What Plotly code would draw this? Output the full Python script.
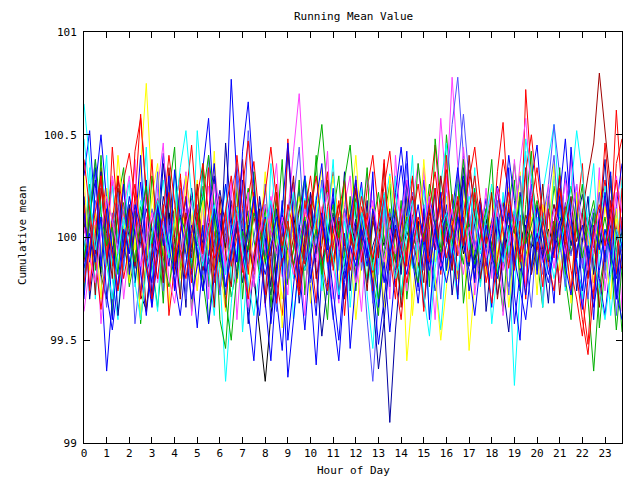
import plotly.graph_objects as go

# Time of day in hours, one reading every 15 minutes
HOURS = [i * 0.25 for i in range(96)]

red_1 = [
    100.05, 100.21, 99.92, 100.34, 100.12, 99.86, 100.02, 100.28,
    100.41, 100.18, 100.60, 100.22, 99.95, 100.10, 99.78, 99.96,
    100.14, 100.31, 99.99, 99.82, 100.07, 100.25, 99.91, 100.03,
    99.74, 99.88, 100.16, 100.04, 99.83, 100.19, 100.37, 100.08,
    99.90, 100.12, 99.79, 99.62, 99.95, 100.18, 100.02, 99.87,
    100.22, 100.09, 99.84, 100.15, 100.32, 100.05, 99.93, 100.11,
    99.81, 99.97, 100.24, 100.40, 100.12, 99.88, 100.01, 99.76,
    99.92, 100.16, 100.29, 100.03, 99.85, 100.20, 100.45, 100.13,
    99.98, 100.21, 99.80, 100.06, 100.33, 100.17, 99.94, 100.09,
    99.87, 100.14, 100.38, 100.22, 100.02, 99.84, 100.72, 100.30,
    100.08, 99.91, 100.19, 100.03, 99.78, 99.95, 100.12, 99.86,
    99.70, 99.48, 99.92, 100.10, 100.28, 100.05, 100.62, 100.20,
]
green_1 = [
    100.18, 99.94, 100.06, 99.83, 100.11, 100.27, 99.98, 100.04,
    99.76, 99.91, 100.15, 100.02, 99.87, 99.66, 99.95, 100.21,
    100.08, 99.84, 99.97, 100.19, 100.05, 99.79, 99.58, 99.90,
    100.12, 99.96, 99.71, 99.85, 100.09, 100.24, 99.99, 99.82,
    100.03, 100.17, 99.92, 100.08, 99.77, 99.94, 100.13, 100.30,
    100.12, 100.33, 100.55, 100.21, 99.97, 100.10, 99.86, 100.04,
    100.19, 99.93, 99.80, 100.07, 100.22, 99.98, 100.14, 99.89,
    99.72, 99.96, 100.11, 99.85, 100.02, 100.26, 100.09, 99.95,
    100.50, 100.18, 100.03, 99.87, 100.12, 99.93, 99.78, 100.06,
    100.21, 100.04, 99.88, 100.15, 100.36, 100.08, 99.91, 100.02,
    99.84, 100.13, 99.97, 100.25, 100.06, 99.82, 99.96, 100.11,
    99.88, 99.70, 99.35, 99.75, 99.94, 100.09, 99.86, 100.03,
]
blue_1 = [
    100.30, 100.52, 100.08, 99.82, 99.35, 99.70, 99.96, 100.15,
    99.88, 100.04, 100.27, 99.92, 99.78, 100.06, 100.41, 100.12,
    99.90, 99.73, 100.02, 100.22, 99.96, 100.34, 100.58, 100.10,
    99.85, 100.06, 100.77, 100.28, 99.98, 100.13, 99.80, 99.62,
    99.95, 100.18, 99.70, 99.45, 99.88, 100.06, 100.24, 99.93,
    99.75, 99.38, 99.82, 100.02, 100.19, 99.94, 99.71, 99.88,
    100.08, 100.27, 99.95, 99.78, 100.04, 100.21, 99.90, 100.12,
    100.35, 100.10, 99.86, 100.02, 100.28, 99.97, 99.74, 99.91,
    100.16, 99.93, 100.08, 100.30, 100.12, 99.85, 100.01, 100.19,
    99.92, 99.72, 99.88, 100.06, 99.58, 99.83, 100.04, 100.28,
    100.45, 100.10, 99.93, 100.16, 99.98, 100.32, 100.07, 99.86,
    99.74, 99.95, 100.12, 99.80, 99.62, 99.90, 100.15, 100.36,
]
magenta_1 = [
    99.64, 99.86, 100.04, 99.92, 100.15, 100.28, 99.97, 100.08,
    99.83, 100.12, 99.95, 100.22, 100.05, 99.78, 99.93, 100.18,
    100.02, 99.88, 100.14, 99.96, 99.74, 100.06, 100.25, 99.91,
    100.09, 99.82, 99.97, 100.16, 100.33, 100.01, 99.86, 100.11,
    99.94, 100.20, 100.04, 99.81, 100.13, 100.42, 100.70, 100.24,
    100.02, 99.88, 100.15, 99.93, 99.70, 99.95, 100.12, 100.03,
    99.85, 100.07, 100.30, 100.14, 99.92, 99.79, 100.05, 100.21,
    100.09, 99.90, 100.17, 100.36, 100.04, 99.87, 100.10, 100.58,
    100.22, 100.78, 100.35, 100.06, 99.91, 100.14, 99.96, 100.08,
    100.25, 100.02, 99.84, 100.11, 99.97, 100.19, 100.40, 100.07,
    99.93, 100.16, 100.03, 99.85, 100.08, 100.28, 99.99, 100.12,
    99.87, 100.04, 99.78, 99.95, 100.18, 100.02, 99.90, 100.10,
]
cyan_1 = [
    100.65, 100.38, 100.10, 99.92, 100.06, 100.25, 99.98, 99.84,
    100.12, 99.95, 100.18, 100.03, 99.87, 100.09, 100.28, 100.01,
    99.90, 100.14, 99.96, 99.78, 100.05, 100.22, 99.94, 100.10,
    99.82, 99.30, 99.68, 99.95, 100.13, 99.99, 100.21, 100.04,
    99.88, 100.07, 99.93, 100.16, 100.02, 99.80, 99.96, 100.19,
    100.06, 99.91, 100.12, 100.27, 100.00, 99.86, 100.08, 99.94,
    100.17, 100.03, 99.89, 99.72, 99.98, 100.14, 100.31, 100.05,
    99.92, 100.10, 99.85, 100.02, 100.23, 99.97, 99.81, 99.55,
    99.90, 100.08, 100.26, 100.04, 99.88, 100.13, 99.95, 100.07,
    99.83, 99.99, 100.20, 99.92, 99.28, 99.75, 99.98, 100.16,
    100.04, 100.22, 100.38, 100.55, 100.12, 99.96, 100.08, 99.90,
    100.14, 99.98, 99.82, 100.06, 100.25, 99.93, 100.11, 99.97,
]
yellow_1 = [
    99.82, 99.98, 100.12, 99.90, 100.24, 100.08, 99.85, 100.03,
    100.16, 99.94, 100.36, 100.75, 100.22, 99.97, 100.10, 99.86,
    100.05, 100.19, 99.92, 100.07, 100.28, 99.96, 99.81, 100.04,
    100.15, 99.93, 100.02, 99.78, 99.95, 100.11, 100.26, 99.99,
    99.87, 100.08, 99.94, 99.70, 99.88, 100.05, 100.20, 100.02,
    99.91, 100.14, 99.97, 100.09, 100.30, 100.06, 99.90, 100.12,
    100.40, 100.03, 99.86, 100.15, 99.98, 100.07, 99.82, 99.95,
    100.10, 99.40, 99.72, 99.96, 100.12, 100.01, 99.88, 100.06,
    100.20, 99.95, 99.80, 100.03, 99.45, 99.78, 99.97, 100.14,
    100.05, 99.92, 100.10, 100.24, 100.02, 99.85, 99.99, 100.16,
    99.94, 100.08, 100.21, 99.96, 100.12, 99.89, 100.04, 100.18,
    100.02, 99.87, 100.06, 99.92, 100.15, 99.98, 100.09, 99.86,
]
navy_1 = [
    99.95, 100.12, 100.28, 100.05, 99.88, 100.02, 100.16, 99.90,
    100.04, 99.85, 99.98, 100.14, 100.03, 99.92, 100.20, 100.07,
    99.86, 100.01, 100.19, 99.95, 100.10, 99.97, 99.82, 100.08,
    100.23, 100.05, 99.91, 100.04, 99.78, 99.95, 100.13, 100.00,
    99.89, 99.72, 99.94, 100.11, 100.02, 99.86, 100.06, 99.93,
    100.17, 100.03, 99.88, 99.99, 100.12, 99.95, 99.80, 99.97,
    100.09, 99.92, 99.78, 99.96, 100.05, 99.60, 99.10, 99.55,
    99.88, 100.06, 100.18, 99.98, 100.10, 99.91, 100.04, 100.22,
    100.03, 99.89, 100.12, 100.00, 99.86, 100.07, 100.19, 99.95,
    100.08, 100.25, 100.04, 99.90, 100.11, 99.97, 100.06, 99.84,
    100.00, 99.88, 100.13, 100.02, 99.93, 100.17, 99.96, 100.08,
    100.21, 100.05, 99.92, 100.09, 99.98, 100.14, 100.03, 99.90,
]
darkred_1 = [
    100.02, 100.20, 99.95, 100.10, 99.88, 100.06, 100.24, 100.01,
    99.93, 100.13, 100.00, 99.86, 100.08, 100.19, 99.97, 100.05,
    100.14, 99.90, 100.03, 100.22, 99.99, 99.84, 100.07, 99.96,
    100.12, 100.01, 99.89, 100.15, 100.06, 99.93, 100.10, 99.98,
    100.05, 99.91, 100.18, 100.03, 99.85, 100.00, 100.14, 100.26,
    100.07, 99.94, 100.09, 99.87, 100.02, 100.16, 99.96, 100.11,
    100.23, 100.04, 99.91, 100.08, 99.97, 100.12, 100.01, 99.88,
    100.06, 100.19, 99.99, 99.86, 100.03, 100.15, 99.94, 100.09,
    100.00, 99.90, 100.13, 100.28, 100.07, 99.95, 100.10, 100.02,
    99.89, 100.06, 100.17, 99.98, 100.04, 99.92, 100.11, 100.03,
    99.94, 100.08, 100.00, 100.16, 100.05, 99.92, 100.10, 99.98,
    100.12, 100.30, 100.46, 100.80, 100.52, 100.24, 100.04, 99.93,
]
slate_1 = [
    100.10, 99.92, 100.18, 100.04, 99.86, 100.12, 99.97, 100.25,
    100.06, 99.88, 99.74, 99.96, 100.14, 100.02, 99.83, 100.09,
    99.93, 100.16, 100.30, 100.07, 99.90, 100.03, 99.79, 99.95,
    100.11, 99.98, 100.21, 100.36, 100.05, 99.87, 100.00, 100.17,
    99.96, 99.82, 100.08, 99.94, 100.13, 100.27, 100.03, 99.89,
    100.15, 100.01, 99.85, 99.72, 99.96, 100.10, 99.93, 100.06,
    99.80, 99.98, 99.60, 99.30, 99.70, 99.94, 100.12, 100.04,
    99.91, 100.08, 100.22, 99.97, 99.84, 100.10, 100.01, 99.88,
    100.26, 100.55, 100.78, 100.40, 100.13, 99.95, 100.07, 99.92,
    100.04, 100.18, 99.90, 99.76, 99.96, 100.11, 100.02, 100.20,
    99.97, 100.09, 100.25, 100.55, 100.30, 100.06, 99.91, 100.08,
    99.85, 100.02, 100.14, 99.96, 99.80, 100.04, 99.93, 100.10,
]
black_1 = [
    100.08, 99.90, 100.05, 99.82, 99.70, 99.94, 100.10, 99.96,
    99.85, 100.04, 99.72, 99.65, 99.88, 100.02, 99.91, 100.12,
    99.98, 99.84, 100.06, 99.93, 100.15, 100.01, 99.87, 99.97,
    100.09, 99.95, 100.18, 100.03, 99.89, 100.06, 99.80, 99.54,
    99.30, 99.62, 99.86, 100.02, 99.94, 100.10, 99.97, 99.84,
    100.04, 99.92, 100.08, 99.99, 99.86, 100.02, 100.14, 99.95,
    100.06, 99.93, 100.00, 99.88, 100.05, 99.96, 100.10, 100.01,
    99.90, 100.03, 99.94, 100.08, 99.98, 100.12, 100.02, 99.91,
    100.05, 99.97, 100.11, 99.92, 100.04, 99.89, 100.00, 100.09,
    99.96, 100.07, 99.93, 100.02, 100.13, 99.98, 100.06, 99.95,
    100.01, 99.90, 100.04, 99.97, 100.10, 100.00, 99.92, 100.05,
    99.98, 100.08, 99.95, 100.03, 99.90, 100.06, 99.99, 100.02,
]
red_2 = [
    100.38, 100.14, 99.87, 99.65, 99.90, 100.08, 100.30, 100.12,
    99.94, 100.42, 100.58, 100.20, 99.96, 99.80, 100.05, 100.22,
    99.88, 100.03, 100.19, 100.45, 100.10, 99.92, 100.06, 99.78,
    99.95, 100.13, 99.86, 100.00, 100.24, 100.47, 100.15, 99.98,
    100.09, 99.85, 99.68, 99.92, 100.16, 100.04, 99.87, 100.11,
    100.30, 100.06, 99.90, 99.74, 99.96, 100.13, 100.28, 100.02,
    99.89, 100.15, 100.04, 99.83, 99.95, 100.21, 100.08, 99.79,
    99.60, 99.92, 100.10, 100.26, 100.05, 99.88, 100.00, 100.18,
    100.33, 100.07, 99.91, 100.12, 100.28, 100.44, 100.18, 99.97,
    100.06, 100.24, 100.03, 99.85, 100.10, 99.96, 100.32, 100.50,
    100.22, 100.05, 99.87, 99.74, 99.98, 100.15, 100.04, 99.82,
    99.60, 99.43, 99.75, 100.02, 100.20, 99.94, 100.36, 100.48,
]
green_2 = [
    99.90, 100.08, 100.38, 100.12, 99.96, 100.05, 99.82, 100.17,
    100.03, 99.88, 100.09, 100.25, 99.97, 100.12, 99.90, 99.76,
    99.95, 100.11, 100.02, 99.85, 100.06, 100.20, 100.40, 100.15,
    99.92, 99.70, 99.50, 99.82, 100.03, 99.94, 100.12, 100.05,
    99.88, 100.00, 100.18, 99.95, 100.08, 99.86, 99.98, 100.10,
    99.92, 100.04, 99.82, 100.02, 100.16, 100.00, 100.28, 100.45,
    100.10, 99.94, 100.06, 99.88, 99.70, 99.92, 100.04, 100.14,
    99.98, 100.10, 99.90, 99.78, 100.02, 100.15, 100.06, 99.93,
    100.08, 99.96, 100.12, 100.38, 100.02, 99.87, 100.01, 100.14,
    99.95, 99.82, 99.98, 100.10, 100.02, 100.20, 99.97, 100.06,
    100.18, 100.01, 99.89, 100.08, 99.94, 100.12, 100.25, 100.04,
    99.90, 100.06, 100.18, 99.96, 100.10, 99.92, 99.55, 99.85,
]
blue_2 = [
    100.12, 99.88, 100.24, 100.50, 100.18, 99.94, 99.75, 99.98,
    100.20, 100.05, 99.82, 99.62, 99.90, 100.14, 100.02, 99.86,
    100.33, 100.10, 99.92, 99.70, 99.86, 100.06, 99.58, 99.80,
    100.04, 100.26, 100.05, 99.88, 100.42, 100.66, 100.25, 99.96,
    99.70, 99.40, 99.80, 100.12, 100.46, 100.08, 99.85, 99.55,
    99.92, 100.18, 100.36, 99.98, 99.75, 99.50, 99.84, 100.10,
    100.28, 100.02, 99.86, 100.14, 100.00, 99.78, 99.96, 100.22,
    100.44, 100.16, 99.90, 99.68, 99.94, 100.20, 100.06, 99.84,
    99.96, 100.12, 100.34, 100.06, 99.74, 99.92, 100.10, 99.86,
    100.02, 100.25, 100.08, 100.40, 100.18, 99.90, 99.72, 99.96,
    100.14, 100.02, 99.82, 99.96, 100.20, 100.48, 100.10, 99.88,
    99.65, 99.88, 100.06, 99.94, 100.22, 99.98, 99.74, 99.60,
]
magenta_2 = [
    100.05, 99.90, 99.78, 100.02, 100.20, 100.08, 99.92, 100.14,
    100.30, 100.06, 99.86, 99.98, 100.12, 99.94, 100.08, 99.80,
    99.68, 99.90, 100.06, 100.18, 100.02, 99.88, 100.10, 100.26,
    100.04, 99.86, 99.96, 100.12, 99.90, 99.66, 99.84, 100.02,
    100.16, 100.03, 99.92, 100.10, 99.95, 99.82, 99.99, 100.14,
    100.04, 99.90, 100.08, 100.22, 100.06, 99.94, 100.12, 99.96,
    99.78, 99.92, 100.06, 100.18, 100.00, 99.88, 100.04, 99.92,
    100.10, 100.28, 100.08, 99.94, 100.04, 100.20, 99.98, 99.86,
    100.02, 100.14, 99.96, 99.82, 100.05, 99.94, 100.10, 99.90,
    100.06, 100.24, 100.12, 99.96, 100.08, 100.36, 100.58, 100.20,
    100.04, 99.88, 99.98, 100.14, 100.06, 99.92, 100.10, 100.26,
    100.05, 99.84, 99.98, 100.12, 99.94, 100.08, 100.30, 100.12,
]
cyan_2 = [
    100.48, 100.20, 99.94, 100.08, 99.86, 99.70, 99.92, 100.10,
    99.96, 99.78, 99.60, 99.84, 100.02, 100.18, 100.06, 99.90,
    100.10, 100.34, 100.52, 100.20, 99.98, 99.86, 100.04, 100.16,
    99.98, 99.82, 100.02, 100.15, 99.94, 99.78, 99.62, 99.85,
    100.06, 100.18, 100.02, 99.90, 100.08, 100.22, 99.96, 99.84,
    99.96, 100.10, 100.24, 100.04, 99.90, 99.72, 99.88, 100.06,
    99.94, 100.12, 99.98, 99.84, 100.06, 100.22, 99.96, 99.80,
    99.90, 100.06, 100.18, 99.98, 99.72, 99.52, 99.85, 100.04,
    100.12, 99.96, 99.84, 100.02, 100.20, 100.08, 99.92, 100.10,
    100.26, 100.04, 99.88, 100.00, 100.14, 99.96, 100.48, 100.30,
    99.98, 100.12, 99.96, 99.80, 99.94, 100.08, 100.24, 100.52,
    100.30, 100.05, 99.90, 99.74, 99.60, 99.82, 100.04, 99.94,
]
blue_3 = [
    99.85, 100.02, 99.88, 100.10, 99.72, 99.55, 99.78, 100.04,
    99.92, 100.16, 100.04, 99.86, 99.66, 99.90, 100.12, 99.96,
    99.80, 99.62, 99.88, 100.06, 99.94, 99.74, 99.90, 100.14,
    99.98, 99.76, 99.92, 100.08, 99.86, 100.02, 100.20, 99.94,
    99.82, 99.96, 100.10, 99.88, 99.32, 99.60, 99.90, 100.08,
    99.80, 99.95, 100.12, 99.90, 99.62, 99.40, 99.78, 99.96,
    99.86, 100.04, 99.92, 99.78, 99.48, 99.70, 99.92, 100.06,
    99.94, 99.82, 100.00, 100.16, 99.96, 99.84, 100.04, 99.90,
    99.78, 99.92, 100.10, 99.96, 99.84, 99.62, 99.88, 100.06,
    99.92, 99.80, 99.96, 100.12, 99.90, 99.74, 99.60, 99.86,
    100.02, 99.90, 99.78, 99.94, 100.08, 99.86, 99.72, 99.94,
    100.06, 99.90, 99.66, 99.84, 100.04, 99.92, 99.80, 99.98,
]
red_3 = [
    99.78, 99.96, 100.14, 100.30, 100.08, 99.90, 99.74, 99.94,
    100.10, 100.26, 100.04, 99.88, 99.70, 99.92, 100.12, 100.40,
    100.16, 99.94, 99.80, 100.02, 100.20, 100.36, 100.12, 99.90,
    99.96, 100.14, 100.30, 100.08, 99.86, 99.70, 99.92, 100.06,
    100.22, 100.44, 100.18, 99.96, 100.08, 99.86, 99.72, 99.94,
    100.12, 100.30, 100.06, 99.88, 100.02, 100.18, 99.98, 99.84,
    100.00, 100.20, 100.04, 99.90, 100.08, 100.26, 100.42, 100.14,
    99.96, 99.78, 99.94, 100.10, 99.98, 100.16, 100.32, 100.08,
    99.90, 100.04, 100.20, 99.96, 100.12, 100.30, 100.06, 99.86,
    99.68, 99.90, 100.08, 100.22, 100.04, 99.88, 100.00, 100.16,
    100.34, 100.10, 99.92, 100.06, 100.24, 100.02, 99.84, 99.70,
    99.52, 99.80, 100.04, 100.16, 99.96, 100.10, 100.28, 100.04,
]
green_3 = [
    99.72, 100.26, 99.84, 100.40, 99.96, 99.62, 100.18, 100.34,
    99.80, 100.12, 99.58, 99.90, 100.30, 100.06, 99.68, 100.22,
    100.44, 99.86, 100.10, 99.64, 99.98, 100.36, 99.76, 100.14,
    99.60, 99.46, 99.88, 100.24, 99.70, 100.08, 100.32, 99.82,
    100.16, 99.66, 100.02, 100.38, 99.78, 99.94, 100.28, 99.72,
    100.06, 100.40, 99.84, 99.60, 100.12, 100.30, 99.90, 100.20,
    99.74, 100.04, 100.34, 99.80, 99.62, 100.10, 100.26, 99.88,
    100.18, 99.70, 99.96, 100.36, 100.14, 99.76, 100.48, 100.20,
    99.84, 100.06, 100.30, 99.68, 99.92, 100.24, 99.78, 100.12,
    100.38, 99.86, 99.64, 100.02, 100.28, 99.74, 100.16, 100.42,
    99.90, 99.66, 100.20, 99.96, 100.34, 99.80, 99.60, 100.08,
    100.26, 99.82, 100.12, 99.56, 99.86, 100.30, 99.94, 99.54,
]
magenta_3 = [
    100.22, 99.76, 100.08, 99.58, 99.92, 100.30, 100.14, 99.70,
    99.96, 100.38, 99.82, 100.10, 99.66, 100.24, 100.46, 99.90,
    99.74, 100.04, 100.32, 99.62, 99.88, 100.18, 99.70, 100.36,
    100.10, 99.84, 100.28, 99.60, 99.98, 100.22, 99.76, 100.06,
    99.66, 100.14, 100.36, 99.90, 99.72, 100.26, 99.94, 99.62,
    100.20, 99.80, 100.08, 100.42, 99.86, 99.68, 100.16, 100.30,
    99.92, 99.64, 100.04, 100.28, 99.82, 100.12, 99.70, 100.40,
    100.02, 99.74, 100.18, 99.88, 100.34, 99.96, 99.60, 100.10,
    100.30, 99.84, 100.06, 100.44, 100.16, 99.72, 99.98, 100.24,
    99.80, 100.12, 99.62, 99.90, 100.38, 100.08, 99.76, 100.20,
    100.02, 99.68, 100.26, 99.94, 99.78, 100.14, 100.40, 99.86,
    99.66, 100.10, 99.92, 100.34, 99.74, 99.96, 100.22, 99.64,
]
cyan_3 = [
    99.90, 100.34, 99.70, 100.12, 100.40, 99.80, 99.60, 100.06,
    100.28, 99.76, 100.02, 100.44, 99.86, 99.64, 100.16, 99.94,
    100.32, 99.72, 100.08, 99.88, 100.52, 100.18, 99.84, 99.62,
    100.00, 100.26, 99.78, 100.12, 99.54, 99.90, 100.22, 100.02,
    99.70, 100.36, 100.10, 99.82, 100.04, 99.60, 99.88, 100.30,
    99.94, 100.20, 99.74, 100.06, 100.38, 99.84, 100.12, 99.66,
    99.98, 100.24, 99.72, 99.46, 99.86, 100.14, 99.92, 100.30,
    99.68, 100.02, 100.40, 99.80, 100.08, 99.62, 99.96, 100.26,
    100.46, 99.88, 99.70, 100.18, 99.94, 100.34, 99.76, 100.04,
    99.58, 99.84, 100.22, 100.00, 99.72, 100.16, 100.42, 99.82,
    100.10, 99.66, 99.96, 100.30, 100.08, 99.74, 100.20, 99.90,
    99.70, 100.12, 100.36, 99.86, 100.04, 99.62, 99.88, 100.28,
]
yellow_2 = [
    100.30, 99.84, 100.06, 99.70, 100.24, 99.96, 100.40, 100.12,
    99.78, 100.02, 99.60, 99.88, 100.20, 100.36, 99.92, 99.66,
    100.14, 99.80, 100.30, 100.08, 99.74, 100.18, 99.94, 100.42,
    99.86, 99.64, 100.04, 100.26, 99.90, 99.72, 100.16, 99.98,
    100.32, 99.76, 100.10, 99.56, 99.92, 100.22, 99.82, 100.06,
    99.68, 100.12, 100.34, 99.88, 100.02, 99.74, 100.26, 99.96,
    99.60, 99.90, 100.18, 99.78, 100.04, 99.66, 100.30, 100.10,
    99.84, 100.20, 99.62, 99.94, 100.38, 100.06, 99.80, 99.50,
    99.76, 100.08, 99.92, 100.24, 99.70, 99.98, 100.14, 99.82,
    100.26, 99.88, 100.04, 99.66, 99.94, 100.32, 99.86, 100.10,
    99.72, 100.16, 99.96, 100.36, 99.84, 100.02, 99.68, 100.22,
    99.90, 100.06, 99.78, 100.28, 99.94, 99.70, 100.14, 99.88,
]
navy_2 = [
    100.20, 99.70, 99.94, 100.32, 99.86, 100.08, 99.62, 99.90,
    100.16, 99.78, 100.04, 100.28, 99.70, 99.96, 100.36, 100.10,
    99.82, 100.02, 99.66, 100.24, 99.92, 99.74, 100.12, 100.30,
    99.88, 100.46, 100.10, 99.80, 100.04, 99.58, 99.86, 100.20,
    100.00, 99.76, 100.14, 99.90, 100.42, 100.06, 99.68, 99.94,
    100.22, 99.84, 99.52, 99.78, 100.10, 99.96, 100.32, 99.74,
    100.06, 99.88, 100.18, 99.70, 99.36, 99.60, 99.90, 100.14,
    99.82, 100.28, 99.94, 100.08, 99.66, 99.92, 100.24, 99.86,
    100.12, 99.72, 99.98, 100.34, 100.04, 99.80, 100.18, 99.64,
    99.90, 100.10, 99.76, 99.54, 99.88, 100.22, 100.02, 99.84,
    100.16, 99.94, 99.68, 100.06, 100.30, 99.86, 100.12, 99.74,
    99.98, 100.20, 99.82, 100.04, 100.38, 99.90, 99.70, 100.08,
]
slate_2 = [
    99.80, 100.14, 100.38, 99.92, 99.66, 100.04, 100.22, 99.86,
    100.10, 99.58, 99.84, 100.20, 99.96, 100.32, 99.74, 100.06,
    99.90, 100.24, 99.70, 100.02, 100.16, 99.82, 100.40, 99.96,
    99.72, 100.08, 99.88, 100.30, 99.94, 100.52, 100.18, 99.84,
    100.26, 99.92, 99.64, 100.06, 99.80, 100.18, 100.44, 99.98,
    99.78, 100.04, 100.28, 99.86, 99.60, 99.90, 100.14, 100.02,
    100.30, 99.84, 100.06, 99.68, 99.92, 100.20, 99.76, 100.10,
    99.94, 100.36, 100.02, 99.74, 100.16, 99.88, 100.06, 99.70,
    100.10, 99.86, 100.32, 100.60, 100.28, 99.96, 99.80, 100.14,
    99.88, 100.24, 100.04, 99.72, 100.12, 100.30, 99.90, 99.66,
    100.04, 99.82, 100.18, 100.40, 99.98, 99.76, 100.08, 100.26,
    99.92, 99.70, 100.00, 100.22, 99.84, 100.10, 99.62, 99.94,
]
darkred_2 = [
    99.88, 100.10, 99.72, 100.24, 100.02, 99.80, 100.30, 99.96,
    100.14, 99.86, 100.06, 99.64, 99.94, 100.18, 99.78, 100.34,
    100.00, 99.70, 100.12, 99.90, 100.26, 99.84, 100.04, 99.66,
    100.20, 99.92, 99.76, 100.10, 100.38, 99.98, 99.82, 100.14,
    99.68, 99.90, 100.22, 99.86, 100.06, 100.30, 99.74, 100.00,
    100.16, 99.80, 99.96, 100.28, 99.88, 100.08, 99.70, 99.94,
    100.24, 99.98, 99.74, 100.12, 99.90, 100.36, 99.84, 100.04,
    99.66, 99.92, 100.20, 100.02, 99.78, 100.14, 99.94, 100.30,
    100.06, 99.84, 100.18, 99.96, 100.40, 100.10, 99.80, 99.98,
    100.22, 99.70, 99.92, 100.16, 99.86, 100.04, 100.34, 99.82,
    99.96, 100.26, 99.88, 100.08, 99.72, 100.02, 100.20, 99.90,
    100.12, 99.80, 100.04, 99.66, 99.94, 100.18, 100.00, 99.84,
]
red_4 = [
    100.16, 99.74, 100.02, 100.30, 99.88, 100.44, 100.08, 99.80,
    99.96, 100.20, 99.70, 100.06, 100.38, 99.92, 100.16, 99.62,
    99.86, 100.28, 100.04, 99.78, 100.12, 99.94, 100.34, 99.84,
    100.08, 99.66, 99.98, 100.40, 100.14, 99.82, 100.22, 99.90,
    99.72, 100.06, 100.26, 99.86, 100.48, 100.02, 99.76, 100.18,
    99.94, 99.68, 100.10, 100.32, 99.84, 100.06, 99.62, 99.98,
    100.28, 99.88, 100.12, 99.74, 100.06, 100.38, 99.92, 99.70,
    100.14, 99.86, 100.30, 99.96, 99.64, 100.04, 100.24, 99.82,
    100.40, 99.96, 99.72, 100.10, 99.88, 100.22, 100.06, 99.78,
    99.94, 100.32, 100.56, 100.12, 99.84, 100.08, 99.70, 100.20,
    100.02, 99.76, 100.14, 99.90, 100.30, 99.98, 99.74, 100.10,
    100.36, 99.88, 99.70, 100.06, 100.46, 100.14, 99.82, 100.24,
]
blue_4 = [
    99.70, 100.08, 100.34, 99.86, 100.14, 99.60, 99.94, 100.26,
    99.82, 100.04, 100.40, 99.90, 99.68, 100.16, 99.96, 100.30,
    99.74, 100.02, 100.20, 99.84, 99.56, 99.90, 100.12, 100.36,
    99.96, 99.72, 100.06, 99.88, 100.28, 99.64, 99.40, 99.80,
    100.10, 99.58, 99.84, 100.18, 99.50, 99.76, 100.04, 100.30,
    99.86, 99.62, 100.08, 99.94, 100.24, 99.70, 100.02, 99.46,
    99.80, 100.12, 99.90, 100.32, 99.66, 99.88, 99.54, 99.84,
    100.08, 100.42, 99.92, 99.76, 100.14, 99.60, 99.98, 100.22,
    99.84, 100.06, 99.70, 100.28, 100.02, 99.78, 100.16, 99.94,
    99.66, 100.10, 99.88, 100.34, 99.72, 99.50, 100.00, 100.26,
    99.82, 100.12, 99.94, 99.68, 100.20, 99.86, 100.44, 100.08,
    99.74, 99.96, 99.60, 100.14, 99.88, 100.32, 99.70, 99.92,
]

SERIES = [
    (red_1, "#ff0000"), (green_1, "#00b000"), (blue_1, "#0000ff"),
    (magenta_1, "#ff40ff"), (cyan_1, "#00ffff"), (yellow_1, "#ffff00"),
    (black_1, "#000000"), (darkred_1, "#a00000"), (navy_1, "#0000a0"),
    (slate_1, "#5050ff"), (green_3, "#00b000"), (magenta_3, "#ff40ff"),
    (cyan_3, "#00ffff"), (yellow_2, "#ffff00"), (navy_2, "#0000a0"),
    (slate_2, "#5050ff"), (darkred_2, "#a00000"), (red_4, "#ff0000"),
    (blue_4, "#0000ff"), (red_2, "#ff0000"), (green_2, "#00b000"),
    (blue_2, "#0000ff"), (magenta_2, "#ff40ff"), (cyan_2, "#00ffff"),
    (blue_3, "#0000ff"), (red_3, "#ff0000"),
]

FONT = "DejaVu Sans Mono"
fig = go.Figure()
for vals, col in SERIES:
    fig.add_trace(go.Scatter(x=HOURS[:len(vals)], y=vals, mode="lines",
                             line=dict(color=col, width=1), showlegend=False,
                             hoverinfo="skip"))

axis_common = dict(showline=True, linecolor="black", linewidth=1, mirror="allticks",
                   ticks="inside", ticklen=6, tickcolor="black", showgrid=False,
                   zeroline=False, tickfont=dict(family=FONT, size=11, color="black"))
fig.update_xaxes(range=[0, 23.75], tickmode="array", tickvals=list(range(24)),
                 ticktext=[str(h) for h in range(24)], **axis_common)
fig.update_yaxes(range=[99, 101], tickmode="array", tickvals=[99, 99.5, 100, 100.5, 101],
                 ticktext=["99", "99.5", "100", "100.5", "101"], ticklabelstandoff=4,
                 **axis_common)

fig.update_layout(
    width=640, height=480, plot_bgcolor="white", paper_bgcolor="white",
    margin=dict(l=84, r=18, t=32, b=37, autoexpand=False),
    annotations=[
        dict(text="Running Mean Value", x=0.5, y=(443 - 17) / 411, xref="paper", yref="paper",
             showarrow=False, font=dict(family=FONT, size=11, color="black"),
             xanchor="center", yanchor="middle"),
        dict(text="Hour of Day", x=0.5, y=(443 - 471) / 411, xref="paper", yref="paper",
             showarrow=False, font=dict(family=FONT, size=11, color="black"),
             xanchor="center", yanchor="middle"),
        dict(text="Cumulative mean", x=(23 - 84) / 538, y=(443 - 236) / 411, xref="paper",
             yref="paper", showarrow=False, textangle=-90,
             font=dict(family=FONT, size=11, color="black"),
             xanchor="center", yanchor="middle"),
    ],
)
fig.write_html("out.html", config={"displayModeBar": False})

# remove the browser's default page margin so the figure sits at the window's corner
with open("out.html", encoding="utf-8") as fh:
    page = fh.read()
page = page.replace("<body>", '<body style="margin:0;padding:0;">', 1)
with open("out.html", "w", encoding="utf-8") as fh:
    fh.write(page)
